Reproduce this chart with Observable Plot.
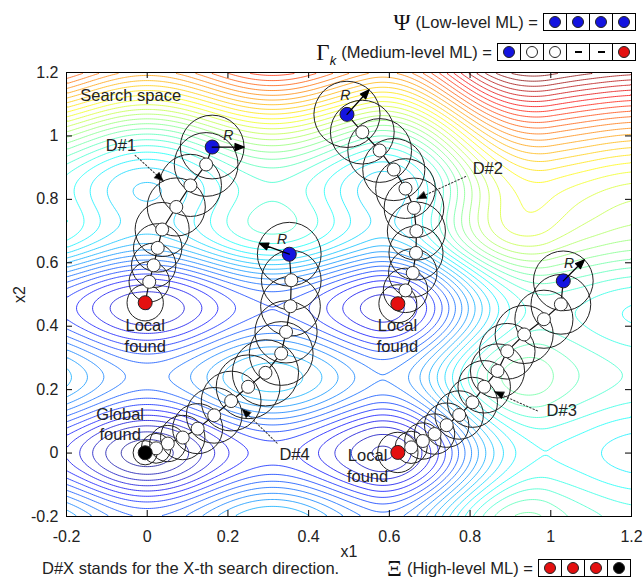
<!DOCTYPE html>
<html><head><meta charset="utf-8">
<script src="https://cdn.jsdelivr.net/npm/d3@7"></script>
<script src="https://cdn.jsdelivr.net/npm/@observablehq/plot@0.6"></script>
<style>
body{margin:0;background:#fff;font-family:"Liberation Sans",Arial,sans-serif;color:#222;}
#wrap{width:644px;height:581px;position:relative;overflow:hidden}
#head{height:62px;position:relative}
#foot{height:23px;position:relative}
.row{position:absolute;display:flex;align-items:center;font-size:16.5px;color:#222;white-space:nowrap;height:20px;line-height:20px}
.sym{font-family:"Liberation Serif","DejaVu Serif",serif;font-size:23px;line-height:1;margin-right:5px;color:#111}
.cells{display:flex;border:1.5px solid #000;margin-left:5px}
.cell{width:22px;height:16px;border-left:1.5px solid #000;display:flex;align-items:center;justify-content:center}
.cell:first-child{border-left:none}
.dot{width:12px;height:12px;border-radius:50%;border:1px solid #222;box-sizing:border-box}
.dash{width:7px;height:1.5px;background:#000}
</style></head>
<body><div id="wrap">
<div id="head">
  <div class="row" id="psiRow" style="right:8px;top:12px"><span class="sym">Ψ</span>(Low-level ML) =</div>
  <div class="row" id="gammaRow" style="right:8px;top:42px"><span class="sym">Γ<span style="font-size:13px;font-style:italic;font-family:'Liberation Sans',Arial,sans-serif;position:relative;top:5px">k</span></span>(Medium-level ML) =</div>
</div>
<div id="chart"></div>
<div id="foot">
  <div class="row" style="left:42px;top:0px">D#X stands for the X-th search direction.</div>
  <div class="row" id="xiRow" style="right:13px;top:0px"><span class="sym">Ξ</span>(High-level ML) =</div>
</div>
</div>
<script>
// ---------- axes ----------
const xDomain = [-0.2, 1.2];
const yDomain = [-0.2, 1.2];
const xTicks = [-0.2, 0, 0.2, 0.4, 0.6, 0.8, 1, 1.2];
const yTicks = [-0.2, 0, 0.2, 0.4, 0.6, 0.8, 1, 1.2];

// ---------- search-space landscape ----------
const wellSpacing = [0.62, 0.47];      // spacing of minima along x1, x2
const wellDepth = [1.0, 1.6];          // depth of the periodic wells along x1, x2
const wellFadeX = [0.7, 1.1, 0.6];     // wells get shallower towards the right: from, to, amount
const wellFadeY = [0.6, 1.0, 0.7];     // and towards the top
const riseX = [0.55, 1.0, 4.0];        // smooth step up towards the right: from, to, height
const riseY = [0, 6];                  // onset and gain of the rise towards the top
const globalWell = [0, 0, 0.5, 0.1];   // extra depth of the global minimum: x1, x2, depth, width
const colorRange = [-3.1, 14.5];
const levelStep = 0.4;
const jet = ["#00007f","#0000ff","#007fff","#00ffff","#7fff7f","#ffff00","#ff7f00","#ff0000","#7f0000"];

// ---------- search directions ----------
const d1x = [0.161, 0.146, 0.107, 0.072, 0.037, 0.026, 0.016, 0.005, -0.005];
const d1y = [0.965, 0.910, 0.844, 0.776, 0.705, 0.647, 0.592, 0.540, 0.474];
const d1R = [0.079, 0.079, 0.077, 0.072, 0.067, 0.060, 0.055, 0.050, 0.045];

const d2x = [0.495, 0.533, 0.576, 0.611, 0.640, 0.661, 0.667, 0.666, 0.658, 0.640, 0.621];
const d2y = [1.068, 1.012, 0.954, 0.894, 0.834, 0.773, 0.700, 0.631, 0.568, 0.513, 0.471];
const d2R = [0.082, 0.079, 0.079, 0.077, 0.074, 0.074, 0.072, 0.067, 0.060, 0.055, 0.047];

const d3x = [1.031, 1.025, 0.983, 0.934, 0.892, 0.868, 0.835, 0.806, 0.773, 0.742, 0.712, 0.683, 0.654, 0.621];
const d3y = [0.543, 0.469, 0.422, 0.374, 0.321, 0.259, 0.209, 0.160, 0.120, 0.088, 0.060, 0.038, 0.018, 0.002];
const d3R = [0.074, 0.074, 0.072, 0.072, 0.069, 0.067, 0.065, 0.062, 0.060, 0.055, 0.050, 0.045, 0.040, 0.050];

const d4x = [0.352, 0.357, 0.355, 0.344, 0.332, 0.293, 0.250, 0.208, 0.166, 0.125, 0.088, 0.051, 0.022, -0.005];
const d4y = [0.627, 0.545, 0.463, 0.382, 0.314, 0.253, 0.209, 0.164, 0.119, 0.077, 0.049, 0.030, 0.015, 0.001];
const d4R = [0.079, 0.074, 0.074, 0.077, 0.079, 0.082, 0.079, 0.074, 0.069, 0.062, 0.055, 0.045, 0.037, 0.030];

const dirNames = ["D#1", "D#2", "D#3", "D#4"];
const endKinds = ["red", "red", "red", "black"];
const rArrowAngle = [90, 42, 45, -70];           // direction of the R arrow (deg, clockwise from up)
const rLabelX = [0.201, 0.491, 1.045, 0.334];
const rLabelY = [1.000, 1.128, 0.599, 0.673];
const dLabelX = [-0.065, 0.844, 1.027, 0.365];
const dLabelY = [0.970, 0.898, 0.135, -0.006];
const dFromX = [-0.030, 0.789, 0.967, 0.322];
const dFromY = [0.939, 0.872, 0.133, 0.031];
const dToX = [0.040, 0.669, 0.861, 0.235];
const dToY = [0.858, 0.802, 0.193, 0.139];

const titleText = "Search space";
const titleX = -0.166, titleY = 1.128;
const noteText = ["Local\nfound", "Local\nfound", "Global\nfound", "Local\nfound"];
const noteX = [-0.005, 0.620, -0.067, 0.546];
const noteY = [0.372, 0.372, 0.094, -0.038];

// ---------- legend cells ----------
const psiCells = ["blue", "blue", "blue", "blue"];
const gammaCells = ["blue", "white", "white", "dash", "dash", "red"];
const xiCells = ["red", "red", "red", "black"];
const kindColor = {blue: "#1414e0", red: "#e41010", black: "#000", white: "#fff"};

// ---------- build ----------
const smooth = (a, b, t) => { const u = Math.min(1, Math.max(0, (t - a) / (b - a))); return u * u * (3 - 2 * u); };
function field(x, y) {
  const fx = 1 - wellFadeX[2] * smooth(wellFadeX[0], wellFadeX[1], x);
  const fy = 1 - wellFadeY[2] * smooth(wellFadeY[0], wellFadeY[1], y);
  return fx * (-wellDepth[0] * Math.cos(2 * Math.PI * x / wellSpacing[0])
         - fy * wellDepth[1] * Math.cos(2 * Math.PI * y / wellSpacing[1]))
         + riseX[2] * smooth(riseX[0], riseX[1], x)
         + riseY[1] * Math.max(0, y - riseY[0]) ** 3
         - globalWell[2] * Math.exp(-((x - globalWell[0]) ** 2 + (y - globalWell[1]) ** 2) / (2 * globalWell[3] ** 2));
}

const W = 644, H = 496, mL = 66, mR = 13, mT = 10, mB = 42;
const kx = (W - mL - mR) / (xDomain[1] - xDomain[0]);
const ky = (H - mT - mB) / (yDomain[1] - yDomain[0]);

const dirs = [[d1x, d1y, d1R], [d2x, d2y, d2R], [d3x, d3y, d3R], [d4x, d4y, d4R]];
const pts = [];
dirs.forEach(([xs, ys, rs], k) => xs.forEach((x, i) => pts.push({
  dir: dirNames[k], i, n: xs.length, x, y: ys[i], R: rs[i],
  kind: i === 0 ? "blue" : i === xs.length - 1 ? endKinds[k] : "white"
})));
const starts = pts.filter(d => d.i === 0).map((d, k) => ({...d, angle: rArrowAngle[k]}));
const mids = pts.filter(d => d.kind === "white");
const ends = pts.filter(d => d.i === 0 || d.i === d.n - 1);

const dArrows = dirNames.map((name, k) => {
  const dx = (dToX[k] - dFromX[k]) * kx, dy = -(dToY[k] - dFromY[k]) * ky;
  return {x: dFromX[k], y: dFromY[k], len: Math.hypot(dx, dy), rot: Math.atan2(dx, -dy) * 180 / Math.PI};
});
const dLabels = dirNames.map((t, k) => ({t, x: dLabelX[k], y: dLabelY[k]}));
const rLabels = rLabelX.map((x, k) => ({x, y: rLabelY[k]}));
const notes = noteText.map((t, k) => ({t, x: noteX[k], y: noteY[k]}));

const stemShape = {draw(c, l) { c.moveTo(0, 0); c.lineTo(0, -l); }};
const headShape = {draw(c, l) { c.moveTo(0, -l); c.lineTo(-3.6, -l + 9); c.lineTo(3.6, -l + 9); c.closePath(); }};
const rArrowShape = {draw(c, l) { c.moveTo(0, 0); c.lineTo(0, -l + 7); c.moveTo(0, -l); c.lineTo(-3.5, -l + 9); c.lineTo(3.5, -l + 9); c.closePath(); }};

const fmt = d => String(d);
const plot = Plot.plot({
  width: W, height: H, marginLeft: mL, marginRight: mR, marginTop: mT, marginBottom: mB,
  x: {domain: xDomain},
  y: {domain: yDomain},
  color: {type: "linear", domain: colorRange, interpolate: d3.piecewise(d3.interpolateRgb, jet), clamp: true},
  r: {type: "identity"},
  length: {type: "identity"},
  style: {fontFamily: "'Liberation Sans', Arial, sans-serif", fontSize: "16px", color: "#222", background: "white"},
  marks: [
    Plot.contour({x1: xDomain[0], y1: yDomain[0], x2: xDomain[1], y2: yDomain[1], value: field,
      stroke: "value", fill: "none", thresholds: d3.range(colorRange[0] + 0.3, 20, levelStep), strokeWidth: 0.9, strokeOpacity: 0.85}),
    Plot.dot(pts, {x: "x", y: "y", r: d => d.R * kx, stroke: "#222", strokeWidth: 1, fill: "none"}),
    Plot.line(pts, {x: "x", y: "y", z: "dir", stroke: "#111", strokeWidth: 1.2}),
    Plot.dot(mids, {x: "x", y: "y", r: 6.5, fill: "white", stroke: "#333", strokeWidth: 1}),
    Plot.dot(ends, {x: "x", y: "y", r: 7, fill: d => kindColor[d.kind], stroke: "#222", strokeWidth: 1}),
    Plot.vector(starts, {x: "x", y: "y", length: d => d.R * kx, rotate: "angle", anchor: "start",
      shape: rArrowShape, stroke: "#000", fill: "#000", strokeWidth: 1.3}),
    Plot.text(rLabels, {x: "x", y: "y", text: () => "R", fontStyle: "italic", fontSize: 14, fill: "#222"}),
    Plot.vector(dArrows, {x: "x", y: "y", length: "len", rotate: "rot", anchor: "start",
      shape: stemShape, stroke: "#333", strokeWidth: 1, strokeDasharray: "1.5,2", fill: "none"}),
    Plot.vector(dArrows, {x: "x", y: "y", length: "len", rotate: "rot", anchor: "start",
      shape: headShape, stroke: "#000", strokeWidth: 0.5, fill: "#000"}),
    Plot.text(dLabels, {x: "x", y: "y", text: "t", fontSize: 16.5, fill: "#222"}),
    Plot.text([titleText], {x: () => titleX, y: () => titleY, text: d => d, textAnchor: "start", fontSize: 16.5, fill: "#222"}),
    Plot.text(notes, {x: "x", y: "y", text: "t", fontSize: 16.5, fill: "#222", lineHeight: 1.25}),
    Plot.frame({stroke: "#000", strokeWidth: 1}),
    Plot.ruleX(xTicks, {y1: yDomain[0], y2: yDomain[0] + 6 / ky, stroke: "#000"}),
    Plot.ruleX(xTicks, {y1: yDomain[1], y2: yDomain[1] - 6 / ky, stroke: "#000"}),
    Plot.ruleY(yTicks, {x1: xDomain[0], x2: xDomain[0] + 6 / kx, stroke: "#000"}),
    Plot.ruleY(yTicks, {x1: xDomain[1], x2: xDomain[1] - 6 / kx, stroke: "#000"}),
    Plot.axisX({ticks: xTicks, tickSize: 0, tickPadding: 14, tickFormat: fmt, label: "x1", labelAnchor: "center", labelArrow: "none", labelOffset: 40, fontSize: 16}),
    Plot.axisY({ticks: yTicks, tickSize: 0, tickPadding: 8, tickFormat: fmt, label: "x2", labelAnchor: "center", labelArrow: "none", labelOffset: 53, fontSize: 16})
  ]
});
document.getElementById("chart").appendChild(plot);

function addCells(rowId, cells) {
  const box = document.createElement("div");
  box.className = "cells";
  for (const c of cells) {
    const cell = document.createElement("div");
    cell.className = "cell";
    const m = document.createElement("div");
    if (c === "dash") m.className = "dash";
    else { m.className = "dot"; m.style.background = kindColor[c]; }
    cell.appendChild(m);
    box.appendChild(cell);
  }
  document.getElementById(rowId).appendChild(box);
}
addCells("psiRow", psiCells);
addCells("gammaRow", gammaCells);
addCells("xiRow", xiCells);
</script>
</body></html>
